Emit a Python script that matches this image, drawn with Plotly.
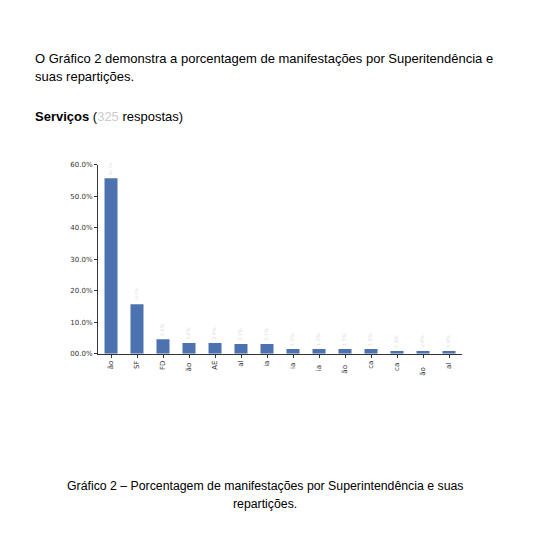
import plotly.graph_objects as go

categories = ["ão", "SF", "FD", "ão ", "AE", "al", "ia", "ia ", "ia  ", "ão  ", "ca", "ca ", "ão   ", "al "]
values = [55.7, 15.7, 4.6, 3.4, 3.4, 3.1, 3.1, 1.5, 1.5, 1.5, 1.5, 0.9, 0.9, 0.9]
ytick_vals = [0, 10, 20, 30, 40, 50, 60]
ytick_text = ["00.0%", "10.0%", "20.0%", "30.0%", "40.0%", "50.0%", "60.0%"]

OFF = 8
W, H = 547 - 2 * OFF, 550 - 2 * OFF

def px(x, y):
    return (x - OFF) / W, 1 - (y - OFF) / H

fig = go.Figure()
fig.add_trace(go.Bar(
    x=categories, y=values,
    marker=dict(color="#4C72B0", line=dict(width=0)),
    text=[f"{v:.1f}%" for v in values],
    textposition="outside", textangle=-90,
    textfont=dict(family="DejaVu Sans", size=7, color="#dddddd"),
    cliponaxis=False,
))

x0, _ = px(98, 0)
x1, _ = px(462, 0)
_, y0 = px(0, 355)
_, y1 = px(0, 163)

fig.update_layout(
    width=W, height=H,
    margin=dict(l=0, r=0, t=0, b=0),
    paper_bgcolor="white", plot_bgcolor="white",
    showlegend=False,
    bargap=0.5,
    xaxis=dict(
        domain=[x0, x1],
        range=[-0.5, 13.5],
        showline=True, linecolor="#333333", linewidth=1,
        ticks="outside", ticklen=3, tickcolor="#333333",
        tickangle=-90,
        tickfont=dict(family="DejaVu Sans", size=7, color="#333333"),
        showgrid=False, zeroline=False,
    ),
    yaxis=dict(
        domain=[y0, y1],
        range=[0, 60],
        tickvals=ytick_vals, ticktext=ytick_text,
        showline=True, linecolor="#333333", linewidth=1,
        ticks="outside", ticklen=3, tickcolor="#333333",
        tickfont=dict(family="DejaVu Sans", size=7, color="#333333"),
        showgrid=False, zeroline=False,
    ),
)

font_doc = dict(family="Liberation Sans, Arial", size=13, color="#000000")
font_cap = dict(family="Liberation Sans, Arial", size=12.3, color="#000000")

ann = [
    ("O Gráfico 2 demonstra a porcentagem de manifestações por Superitendência e", 33, 55, "left", font_doc),
    ("suas repartições.", 33, 73, "left", font_doc),
    ("<b>Serviços</b> (<span style='color:#cccccc'>325</span> respostas)", 33, 114, "left", font_doc),
    ("Gráfico 2 – Porcentagem de manifestações por Superintendência e suas", 265, 489, "center", font_cap),
    ("repartições.", 265, 507, "center", font_cap),
]
for text, x, y, al, f in ann:
    ax, ay = px(x, y)
    fig.add_annotation(text=text, x=ax, y=ay, xref="paper", yref="paper",
                       xanchor=al, yanchor="middle", showarrow=False, font=f)

fig.write_html("out.html")
